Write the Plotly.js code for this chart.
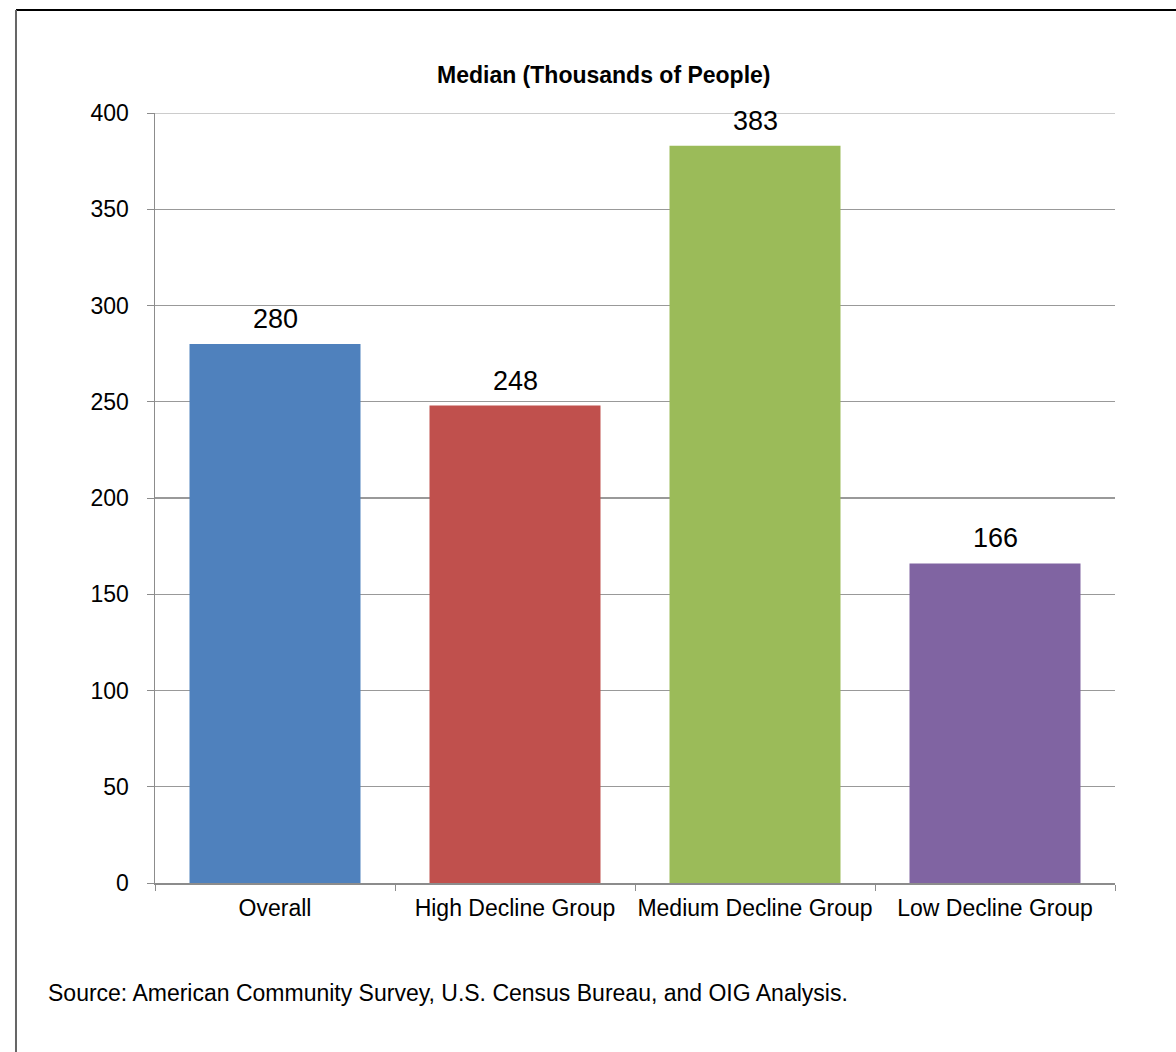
<!DOCTYPE html>
<html>
<head>
<meta charset="utf-8">
<script src="https://cdn.plot.ly/plotly-3.0.1.min.js"></script>
<style>
  html, body { margin: 0; padding: 0; background: #fff; }
  #chart { width: 1176px; height: 1052px; }
</style>
</head>
<body>
<div id="chart"></div>
<script>
// Median population per group, in thousands of people
const categories = ["Overall", "High Decline Group", "Medium Decline Group", "Low Decline Group"];
const medians = [280, 248, 383, 166];
const barColors = ["#4F81BD", "#C0504D", "#9BBB59", "#8064A2"];
const yTicks = [0, 50, 100, 150, 200, 250, 300, 350, 400];
const chartTitle = "Median (Thousands of People)";
const sourceNote = "Source: American Community Survey, U.S. Census Bureau, and OIG Analysis.";

const FONT = "Liberation Sans, Arial, sans-serif";
const yMax = yTicks[yTicks.length - 1];

const trace = {
  type: "bar",
  x: categories,
  y: medians,
  marker: { color: barColors, line: { width: 0 } },
  hoverinfo: "x+y"
};

// value labels sit a little above each bar top
const valueLabels = categories.map((c, i) => ({
  text: String(medians[i]),
  xref: "x", yref: "y",
  x: c, y: medians[i],
  xanchor: "center", yanchor: "bottom",
  yshift: 8,
  showarrow: false,
  font: { family: FONT, size: 27, color: "#000" }
}));

const layout = {
  width: 1176,
  height: 1052,
  margin: { l: 155, r: 61, t: 113, b: 169 },
  paper_bgcolor: "#fff",
  plot_bgcolor: "#fff",
  showlegend: false,
  bargap: 0.2875,
  font: { family: FONT, color: "#000" },
  xaxis: {
    type: "category",
    showline: true,
    linecolor: "#8c8c8c",
    linewidth: 1.5,
    ticks: "outside",
    tickson: "boundaries",
    ticklen: 6,
    tickcolor: "#8c8c8c",
    tickangle: 0,
    tickfont: { family: FONT, size: 23, color: "#000" },
    ticklabelstandoff: 4,
    showgrid: false,
    zeroline: false,
    fixedrange: true
  },
  yaxis: {
    range: [0, yMax],
    tickvals: yTicks,
    ticktext: yTicks.map(String),
    showline: true,
    linecolor: "#8c8c8c",
    linewidth: 1.5,
    ticks: "outside",
    ticklen: 7,
    tickcolor: "#8c8c8c",
    tickfont: { family: FONT, size: 23, color: "#000" },
    ticklabelstandoff: 13,
    showgrid: true,
    gridcolor: "#999999",
    gridwidth: 1.2,
    zeroline: false,
    fixedrange: true
  },
  annotations: [
    {
      text: "<b>" + chartTitle + "</b>",
      xref: "paper", yref: "paper",
      x: 0.4677, y: 1.049,
      xanchor: "center", yanchor: "middle",
      showarrow: false,
      font: { family: FONT, size: 23, color: "#000" }
    },
    {
      text: sourceNote,
      xref: "paper", yref: "paper",
      x: -0.1135, y: -0.1429,
      xanchor: "left", yanchor: "middle",
      showarrow: false,
      font: { family: FONT, size: 23, color: "#000" }
    }
  ].concat(valueLabels),
  shapes: [
    // top gridline at the axis maximum
    {
      type: "line", xref: "paper", yref: "y",
      x0: 0, x1: 1, y0: yMax, y1: yMax,
      line: { color: "#999999", width: 1.2 }
    },
    // frame: top edge and left edge
    {
      type: "line", xref: "paper", yref: "paper",
      x0: -0.1448, x1: 1.1,
      y0: 1.1338, y1: 1.1338,
      line: { color: "#000", width: 2 }
    },
    {
      type: "line", xref: "paper", yref: "paper",
      x0: -0.1448, x1: -0.1448,
      y0: 1.1338, y1: -0.25,
      line: { color: "#666", width: 2 }
    }
  ]
};

Plotly.newPlot("chart", [trace], layout, { displayModeBar: false, staticPlot: true });
</script>
</body>
</html>
